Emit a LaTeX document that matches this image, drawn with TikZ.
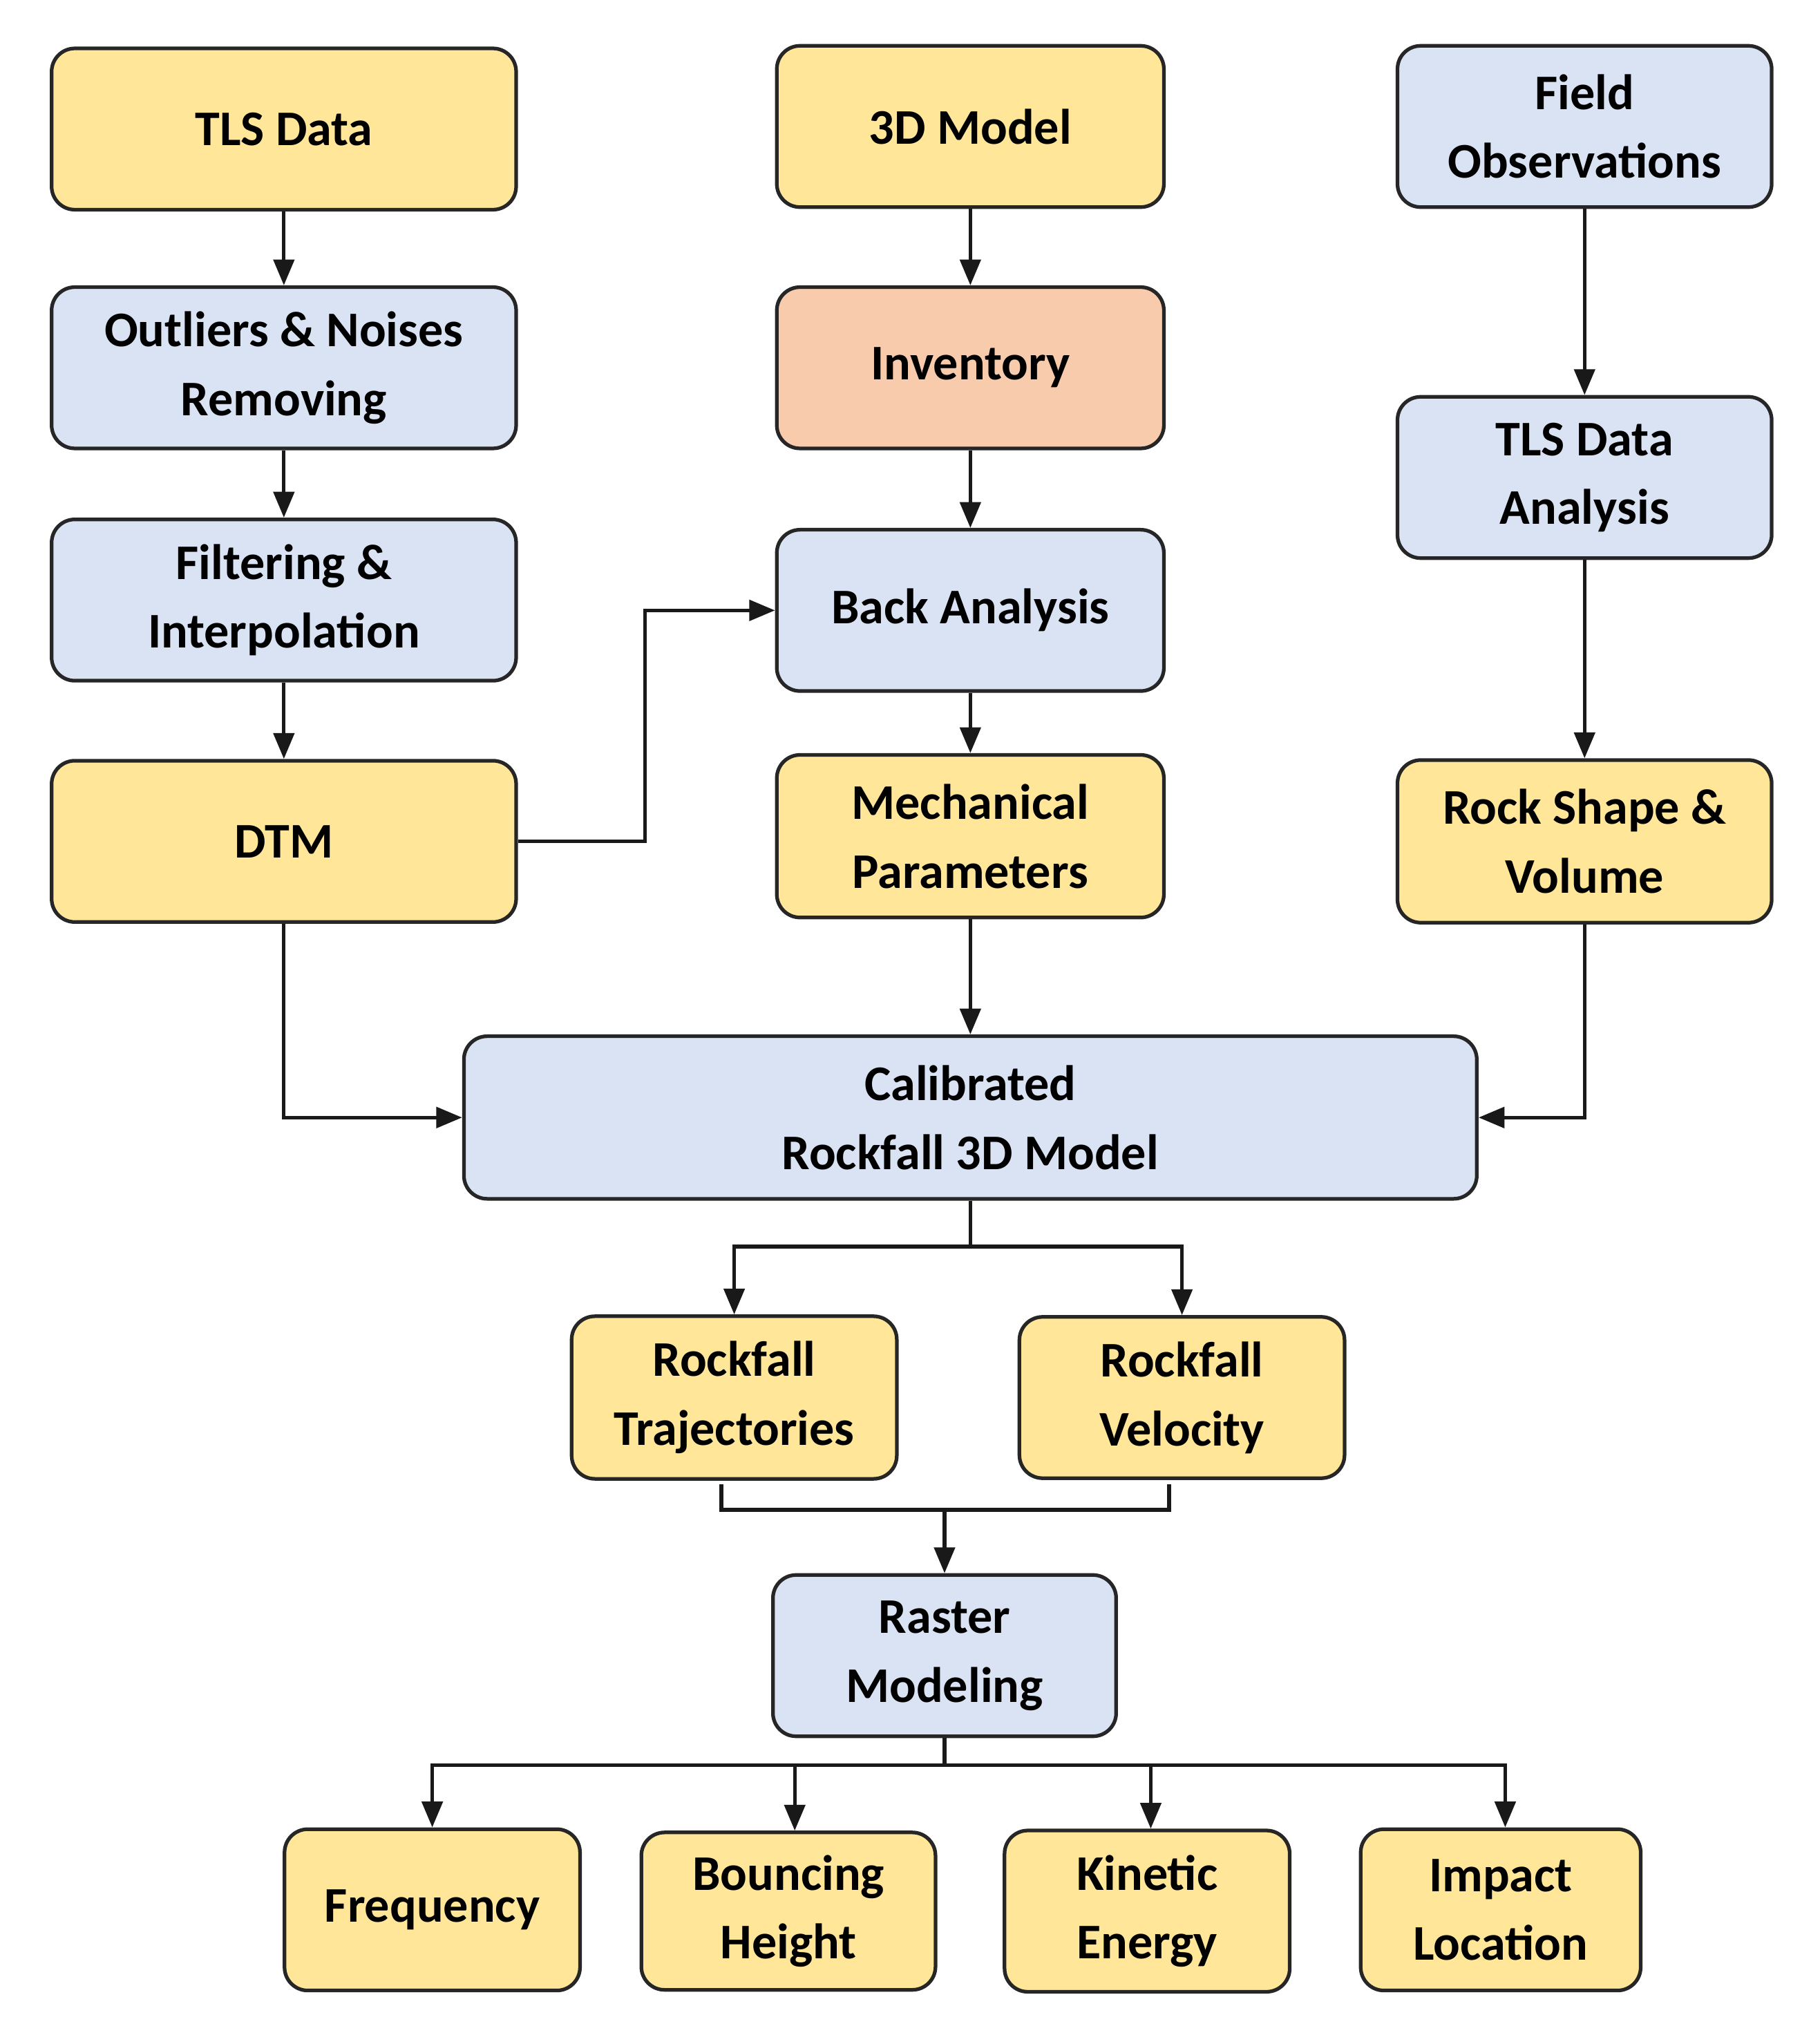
\documentclass[tikz,border=0pt]{standalone}
\usepackage{fontspec}
\setmainfont{Carlito}
\usetikzlibrary{arrows.meta}
\definecolor{yel}{HTML}{FFE699}
\definecolor{blu}{HTML}{DAE3F3}
\definecolor{sal}{HTML}{F8CBAD}
\begin{document}
\begin{tikzpicture}[x=0.05cm,y=-0.05cm,
 box/.style={draw=black!85, line width=4pt, rounded corners=0.9cm, align=center,
   font=\fontsize{55}{76}\selectfont\bfseries, inner sep=0pt},
 ln/.style={line width=4pt, draw=black!90},
 ar/.style={ln, -{Triangle[length=1cm,width=0.8cm]}}]
\useasboundingbox[fill=white] (0,0) rectangle (1410,1577);
\node[box,fill=yel,minimum width=18cm,minimum height=6.25cm] (tls) at (220,100) {TLS Data};
\node[box,fill=blu,minimum width=18cm,minimum height=6.25cm] (out) at (220,285) {Outliers \& Noises\\Removing};
\node[box,fill=blu,minimum width=18cm,minimum height=6.25cm] (fil) at (220,465) {Filtering \&\\Interpolation};
\node[box,fill=yel,minimum width=18cm,minimum height=6.25cm] (dtm) at (220,652) {DTM};
\node[box,fill=yel,minimum width=15cm,minimum height=6.25cm] (m3d) at (752,98) {3D Model};
\node[box,fill=sal,minimum width=15cm,minimum height=6.25cm] (inv) at (752,285) {Inventory};
\node[box,fill=blu,minimum width=15cm,minimum height=6.25cm] (back) at (752,473) {Back Analysis};
\node[box,fill=yel,minimum width=15cm,minimum height=6.3cm] (mech) at (752,648) {Mechanical\\Parameters};
\node[box,fill=blu,minimum width=14.5cm,minimum height=6.25cm] (field) at (1228,98) {Field\\Observations};
\node[box,fill=blu,minimum width=14.5cm,minimum height=6.25cm] (tlsa) at (1228,370) {TLS Data\\Analysis};
\node[box,fill=yel,minimum width=14.5cm,minimum height=6.3cm] (rock) at (1228,652) {Rock Shape \&\\Volume};
\node[box,fill=blu,minimum width=39.25cm,minimum height=6.3cm] (cal) at (752,866) {Calibrated\\Rockfall 3D Model};
\node[box,fill=yel,minimum width=12.6cm,minimum height=6.3cm] (traj) at (569,1083) {Rockfall\\Trajectories};
\node[box,fill=yel,minimum width=12.6cm,minimum height=6.25cm] (vel) at (916,1083) {Rockfall\\Velocity};
\node[box,fill=blu,minimum width=13.3cm,minimum height=6.25cm] (ras) at (732,1283) {Raster\\Modeling};
\node[box,fill=yel,minimum width=11.45cm,minimum height=6.25cm] (freq) at (335,1480) {Frequency};
\node[box,fill=yel,minimum width=11.4cm,minimum height=6.1cm] (bou) at (611,1481) {Bouncing\\Height};
\node[box,fill=yel,minimum width=11.05cm,minimum height=6.25cm] (kin) at (889,1481) {Kinetic\\Energy};
\node[box,fill=yel,minimum width=10.85cm,minimum height=6.25cm] (imp) at (1163,1480) {Impact\\Location};
\draw[ar] (tls) -- (out);
\draw[ar] (out) -- (fil);
\draw[ar] (fil) -- (dtm);
\draw[ar] (m3d) -- (inv);
\draw[ar] (inv) -- (back);
\draw[ar] (back) -- (mech);
\draw[ar] (field) -- (tlsa);
\draw[ar] (tlsa) -- (rock);
\draw[ar] (mech) -- (cal);
\draw[ar] (dtm.east) -- (500,652) |- (back.west);
\draw[ar] (dtm.south) |- (cal.west);
\draw[ar] (rock.south) |- (cal.east);
\coordinate (c1) at (752,966);
\draw[ln] (cal.south) -- (c1);
\draw[ar] (c1) -| (traj.north);
\draw[ar] (c1) -| (vel.north);
\coordinate (b1) at (559,1150); \coordinate (b2) at (906,1150);
\coordinate (bm) at (732,1170);
\draw[ln] (b1) |- (bm) -| (b2);
\draw[ar] (bm) -- (ras.north);
\coordinate (r1) at (732,1368);
\draw[ln] (ras.south) -- (r1);
\draw[ar] (r1) -| (freq.north);
\draw[ar] (r1) -| ([xshift=7]bou.north);
\draw[ar] (r1) -| ([xshift=4]kin.north);
\draw[ar] (r1) -| ([xshift=5]imp.north);
\end{tikzpicture}
\end{document}
